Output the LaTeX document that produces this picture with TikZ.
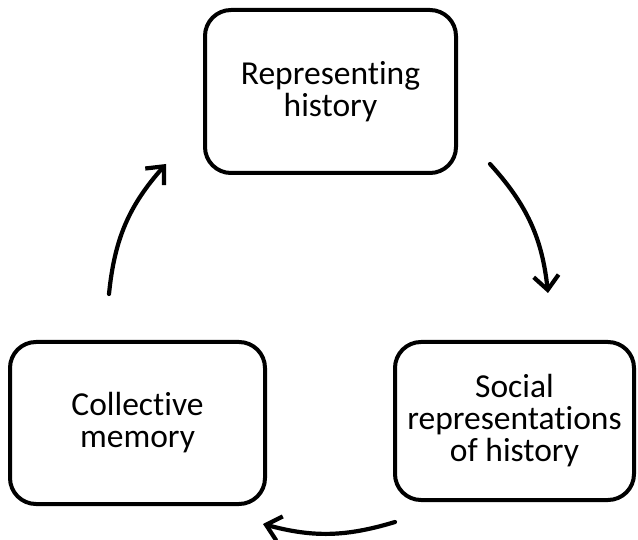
\documentclass[tikz,border=0pt]{standalone}
\usepackage{fontspec}
\setmainfont[RawFeature={-liga;-clig}]{Carlito}
\usepackage{xcolor}
\usetikzlibrary{arrows.meta,positioning}

\begin{document}
\begin{tikzpicture}[x=1pt, y=-1pt,
    stagebox/.style={rectangle, draw=black, line width=4pt, fill=white, rounded corners=26pt,
        align=center, font=\fontsize{33.5}{32}\selectfont, inner sep=0pt},
    cyclearrow/.style={line width=4.2pt, -{Straight Barb[length=14pt,width=25pt]}, line cap=round}]
    % Canvas
    \useasboundingbox (0,0) rectangle (638,540);

    % Stages
    \node[stagebox, minimum width=251pt, minimum height=163pt]
        (repr) at (330.5, 91.5) {Representing\\history};
    \node[stagebox, minimum width=239pt, minimum height=158pt]
        (social) at (514.5, 421) {Social\\representations\\of history};
    \node[stagebox, minimum width=255pt, minimum height=162pt]
        (memory) at (137.5, 423) {Collective\\memory};

    % Arrow ends
    \coordinate (a1s) at (490, 164);
    \coordinate (a1e) at (548, 293);
    \coordinate (a2s) at (395, 522);
    \coordinate (a2e) at (263, 524);
    \coordinate (a3s) at (109, 294);
    \coordinate (a3e) at (166, 164);

    % Cycle
    \draw[cyclearrow] (a1s) to[bend left=18] (a1e);
    \draw[cyclearrow] (a2s) to[bend left=16] (a2e);
    \draw[cyclearrow] (a3s) to[bend left=18] (a3e);
\end{tikzpicture}
\end{document}
